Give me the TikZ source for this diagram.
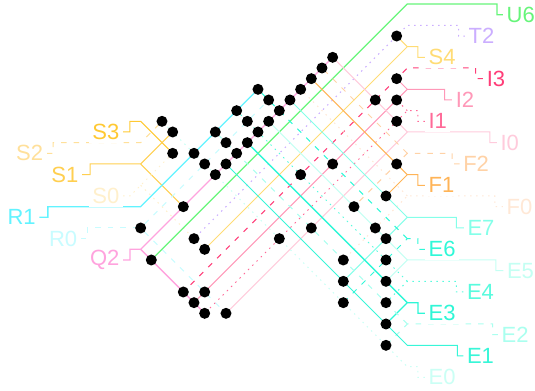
\documentclass[tikz,border=0pt]{standalone}
\usepackage{fontspec}
\setmainfont{Liberation Sans}
\pgfdeclarelayer{wires}
\pgfsetlayers{wires,main}
\definecolor{cS3}{HTML}{FFC933}
\definecolor{cS2}{HTML}{FFE09A}
\definecolor{cS1}{HTML}{FFCF50}
\definecolor{cS0}{HTML}{FFF0CC}
\definecolor{cS4}{HTML}{FFDC75}
\definecolor{cR1}{HTML}{62F3FF}
\definecolor{cR0}{HTML}{C8FCFF}
\definecolor{cQ2}{HTML}{FFA3DE}
\definecolor{cU6}{HTML}{66F57A}
\definecolor{cT2}{HTML}{CBAEFF}
\definecolor{cI3}{HTML}{FF3D78}
\definecolor{cI2}{HTML}{FF98B8}
\definecolor{cI1}{HTML}{FF6A98}
\definecolor{cI0}{HTML}{FFCBDC}
\definecolor{cF2}{HTML}{FFD2A6}
\definecolor{cF1}{HTML}{FFB457}
\definecolor{cF0}{HTML}{FFE8D6}
\definecolor{cE7}{HTML}{84FFE9}
\definecolor{cE6}{HTML}{2FF8D8}
\definecolor{cE5}{HTML}{C4FFF3}
\definecolor{cE4}{HTML}{58FBDE}
\definecolor{cE3}{HTML}{2FF6D6}
\definecolor{cE2}{HTML}{AAFFEF}
\definecolor{cE1}{HTML}{38F6D8}
\definecolor{cE0}{HTML}{CBFFF5}
\tikzset{
  pinsolid/.style={line width=1pt},
  pinheavy/.style={line width=1.3pt},
  pindash/.style={line width=1pt,dash pattern=on 5.5pt off 7pt},
  pindot/.style={line width=1pt,dash pattern=on 1.5pt off 4.5pt},
  dotn/.style={circle,fill=black,inner sep=0pt,minimum size=11pt},
  lab/.style={fill=white,inner xsep=3.5pt,inner ysep=0pt,minimum height=21.5pt,font=\fontsize{22}{24}\selectfont}
}
\begin{document}
\begin{tikzpicture}[x=10.667pt,y=-10.667pt]
\useasboundingbox (-13.188,-0.375) rectangle (36.97,36.28);
% left labels
\node[lab,anchor=east,text=cS3] (S3l) at (-1.65,12) {S3};
\node[lab,anchor=east,text=cS2] (S2l) at (-8.8,14) {S2};
\node[lab,anchor=east,text=cS1] (S1l) at (-5.5,16) {S1};
\node[lab,anchor=east,text=cS0] (S0l) at (-1.65,18) {S0};
\node[lab,anchor=east,text=cR1] (R1l) at (-9.5,20) {R1};
\node[lab,anchor=east,text=cR0] (R0l) at (-5.6,22) {R0};
\node[lab,anchor=east,text=cQ2] (Q2l) at (-1.65,24) {Q2};
% right labels
\node[lab,anchor=west,text=cU6] (U6l) at (33.97,1) {U6};
\node[lab,anchor=west,text=cT2] (T2l) at (30.4,3) {T2};
\node[lab,anchor=west,text=cS4] (S4l) at (26.65,5) {S4};
\node[lab,anchor=west,text=cI3] (I3l) at (32.1,7) {I3};
\node[lab,anchor=west,text=cI2] (I2l) at (29.2,9) {I2};
\node[lab,anchor=west,text=cI1] (I1l) at (26.65,11) {I1};
\node[lab,anchor=west,text=cI0] (I0l) at (33.4,13) {I0};
\node[lab,anchor=west,text=cF2] (F2l) at (29.9,15) {F2};
\node[lab,anchor=west,text=cF1] (F1l) at (26.65,17) {F1};
\node[lab,anchor=west,text=cF0] (F0l) at (33.97,19) {F0};
\node[lab,anchor=west,text=cE7] (E7l) at (30.3,21) {E7};
\node[lab,anchor=west,text=cE6] (E6l) at (26.65,23) {E6};
\node[lab,anchor=west,text=cE5] (E5l) at (34,25) {E5};
\node[lab,anchor=west,text=cE4] (E4l) at (30.25,27) {E4};
\node[lab,anchor=west,text=cE3] (E3l) at (26.65,29) {E3};
\node[lab,anchor=west,text=cE2] (E2l) at (33.5,31) {E2};
\node[lab,anchor=west,text=cE1] (E1l) at (30.25,33) {E1};
\node[lab,anchor=west,text=cE0] (E0l) at (26.65,35) {E0};
% junctions
\foreach \n/\k in {S3/11,S2/13,S1/15,S0/17,R1/19,R0/21,Q2/23}
  \coordinate (j\n) at (0,\k);
\foreach \n/\k in {U6/0,T2/2,S4/4,I3/6,I2/8,I1/10,I0/12,F2/14,F1/16,F0/18,E7/20,E6/22,E5/24,E4/26,E3/28,E2/30,E1/32,E0/34}
  \coordinate (j\n) at (25,\k);
% dots
\foreach \i/\k in {2/11,3/12,3/14,4/19,5/14,6/15,7/16,7/12,8/13,9/14,8/15,10/13,11/12,12/11,13/10,14/9,15/8,16/7,17/6,18/5,9/10,10/11,11/8,12/9,15/16,18/15,24/3,24/7,22/9,24/9,24/11,24/15,23/18,20/19,22/21,23/22,19/24,23/24,19/26,23/26,19/28,23/28,23/30,23/32,0/21,5/22,6/23,1/24,13/22,16/21,4/27,6/27,5/28,6/29,8/29}
  \node[dotn] (d\i-\k) at (\i,\k) {};
\begin{pgfonlayer}{wires}
% left pins
\draw[pinsolid,cS3] (S3l.east) -- (-1,12) -- (-1,11) -- (jS3) -- (d3-14);
\draw[pindash,cS2] (S2l.east) -- (-8.2,14) -- (-8.2,13) -- (jS2) -- (d2-11);
\draw[pinsolid,cS1] (S1l.east) -- (-4.75,16) -- (-4.75,15) -- (jS1) -- (d3-12);
\draw[pinsolid,cS1] (jS1) -- (d4-19);
\draw[pindot,cS0] (S0l.east) -- (-1,18) -- (jS0) -- (d3-14);
\draw[pindot,cS0] (jS0) -- (d6-23);
\draw[pinheavy,cR1] (R1l.east) -- (-8.7,20) -- (-8.7,19) -- (jR1) -- (d11-8);
\draw[pindash,cR0] (R0l.east) -- (-5,22) -- (-5,21) -- (d0-21);
\draw[pindash,cR0] (d0-21) -- (d12-9);
\draw[pindash,cR0] (d0-21) -- (d8-29);
\draw[pinheavy,cQ2] (Q2l.east) -- (-1,24) -- (-1,23) -- (jQ2) -- (d18-5);
\draw[pinheavy,cQ2] (jQ2) -- (d6-29);
% right pins
\draw[pinheavy,cU6] (U6l.west) -- (33.4,1) -- (33.4,0) -- (jU6) -- (d1-24);
\draw[pindot,cT2] (T2l.west) -- (29.8,3) -- (29.8,2) -- (jT2) -- (d5-22);
\draw[pinsolid,cS4] (S4l.west) -- (26,5) -- (26,4) -- (jS4) -- (d6-23);
\draw[pinsolid,cS4] (jS4) -- (d24-3);
\draw[pindash,cI3] (I3l.west) -- (31.4,7) -- (31.4,6) -- (jI3) -- (d4-27);
\draw[pinsolid,cI2] (I2l.west) -- (28.5,9) -- (28.5,8) -- (jI2) -- (d5-28);
\draw[pinsolid,cI2] (jI2) -- (d24-7);
\draw[pindot,cI1] (I1l.west) -- (26,11) -- (26,10) -- (jI1) -- (d6-29);
\draw[pindot,cI1] (jI1) -- (d24-9);
\draw[pinsolid,cI0] (I0l.west) -- (32.75,13) -- (32.75,12) -- (jI0) -- (d8-29);
\draw[pinsolid,cI0] (jI0) -- (d18-5);
\draw[pindash,cF2] (F2l.west) -- (29.2,15) -- (29.2,14) -- (jF2) -- (d20-19);
\draw[pindash,cF2] (jF2) -- (d17-6);
\draw[pinsolid,cF1] (F1l.west) -- (26,17) -- (26,16) -- (jF1) -- (d23-18);
\draw[pinsolid,cF1] (jF1) -- (d16-7);
\draw[pindot,cF0] (F0l.west) -- (33.2,19) -- (33.2,18) -- (jF0) -- (d19-24);
\draw[pindot,cF0] (jF0) -- (d15-8);
\draw[pinsolid,cE7] (E7l.west) -- (29.6,21) -- (29.6,20) -- (jE7) -- (d19-26);
\draw[pinsolid,cE7] (jE7) -- (d14-9);
\draw[pindash,cE6] (E6l.west) -- (26,23) -- (26,22) -- (jE6) -- (d19-28);
\draw[pindash,cE6] (jE6) -- (d11-8);
\draw[pinsolid,cE5] (E5l.west) -- (33.3,25) -- (33.3,24) -- (jE5) -- (d23-26);
\draw[pinsolid,cE5] (jE5) -- (d12-11);
\draw[pindot,cE4] (E4l.west) -- (29.6,27) -- (29.6,26) -- (jE4) -- (d23-28);
\draw[pindot,cE4] (jE4) -- (d9-10);
\draw[pinheavy,cE3] (E3l.west) -- (26,29) -- (26,28) -- (jE3) -- (d23-30);
\draw[pinheavy,cE3] (jE3) -- (d10-13);
\draw[pindash,cE2] (E2l.west) -- (33,31) -- (33,30) -- (jE2) -- (d23-32);
\draw[pindash,cE2] (jE2) -- (d7-12);
\draw[pinsolid,cE1] (E1l.west) -- (29.7,33) -- (29.7,32) -- (jE1) -- (d8-15);
\draw[pindot,cE0] (E0l.west) -- (26,35) -- (26,34) -- (jE0) -- (d2-11);
\end{pgfonlayer}
\end{tikzpicture}
\end{document}
